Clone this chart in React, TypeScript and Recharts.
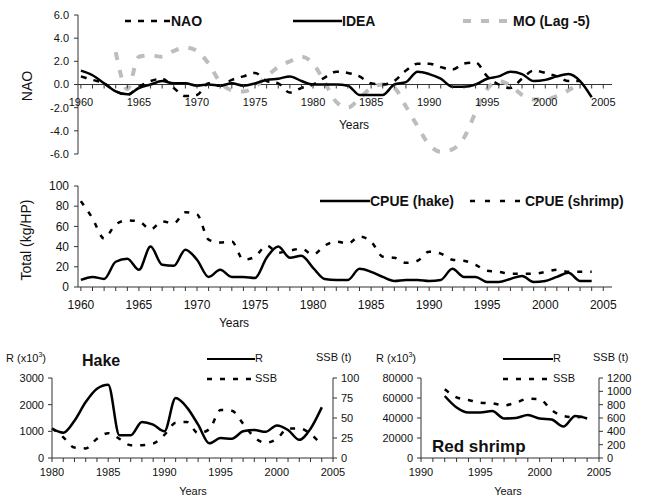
import React from 'react';
import { LineChart, Line, XAxis, YAxis, ReferenceLine } from 'recharts';

const FONT = 'Arial, "Liberation Sans", sans-serif';
const INK = '#111';
const AXIS = '#333';

// top + middle panels, 1960-2004
const years = [
  1960, 1961, 1962, 1963, 1964, 1965, 1966, 1967, 1968, 1969,
  1970, 1971, 1972, 1973, 1974, 1975, 1976, 1977, 1978, 1979,
  1980, 1981, 1982, 1983, 1984, 1985, 1986, 1987, 1988, 1989,
  1990, 1991, 1992, 1993, 1994, 1995, 1996, 1997, 1998, 1999,
  2000, 2001, 2002, 2003, 2004,
];
const nao = [
  0.7, 0.4, 0.1, -0.6, -0.9, -0.2, 0.3, 0.5, -0.3, -1.0,
  -0.9, 0.1, -0.1, 0.4, 0.7, 1.0, 0.3, 0.1, -0.7, -0.3,
  0.0, 0.6, 1.1, 1.0, 0.7, 0.1, 0.0, 0.3, 1.2, 1.8,
  1.8, 1.5, 1.3, 1.8, 1.9, 0.7, 0.0, -0.3, 0.5, 1.2,
  1.0, 0.7, 0.3, 0.3, null,
];
const idea = [
  1.2, 0.8, 0.1, -0.6, -0.85, -0.3, 0.0, 0.3, 0.1, 0.1,
  -0.1, 0.0, -0.1, 0.1, -0.1, 0.1, 0.4, 0.5, 0.7, 0.3,
  0.0, 0.0, 0.0, -0.1, -0.9, -0.9, -0.9, 0.0, 0.2, 1.1,
  0.9, 0.5, -0.2, -0.2, 0.0, 0.5, 0.7, 1.1, 0.9, 0.3,
  0.4, 0.7, 0.9, 0.3, -1.1,
];
const moLag5 = [
  null, null, null, 2.8, -0.4, 2.4, 2.5, 2.4, 2.9, 3.2,
  2.9, 1.8, 0.2, -0.5, -0.6, -0.2, 0.7, 1.5, 2.0, 2.4,
  1.8, 0.2, -1.5, -2.0, -1.2, -0.3, 0.0, -0.3, -1.9, -3.6,
  -5.2, -5.8, -5.6, -4.6, -2.4, -0.4, 0.3, -0.1, -0.9, -1.3,
  -1.3, -1.0, -0.5, 0.2, null,
];
const cpueHake = [
  7, 10, 8, 25, 28, 17, 40, 22, 21, 37,
  27, 10, 17, 10, 10, 9, 29, 40, 29, 31,
  19, 8, 7, 7, 18, 15, 10, 6, 7, 7,
  6, 7, 18, 10, 10, 5, 5, 8, 11, 5,
  6, 10, 14, 6, 6,
];
const cpueShrimp = [
  85, 68, 48, 62, 66, 65, 57, 65, 63, 74,
  72, 47, 44, 45, 27, 30, 41, 34, 36, 38,
  32, 41, 45, 43, 50, 45, 30, 29, 24, 26,
  35, 33, 27, 26, 22, 16, 15, 13, 13, 13,
  15, 17, 15, 15, 15,
];

// hake stock, 1980-2004
const hakeYears = [
  1980, 1981, 1982, 1983, 1984, 1985, 1986, 1987, 1988, 1989,
  1990, 1991, 1992, 1993, 1994, 1995, 1996, 1997, 1998, 1999,
  2000, 2001, 2002, 2003, 2004,
];
const hakeR = [
  1100, 950, 1400, 2100, 2600, 2750, 850, 850, 1350, 1250,
  1000, 2250, 1900, 1250, 550, 750, 720, 1000, 1050, 980,
  1220, 1050, 680, 1100, 1900,
];
const hakeSSB = [
  37, 26, 13, 12, 24, 31, 24, 16, 16, 18,
  29, 44, 45, 31, 36, 60, 59, 43, 26, 19,
  24, 37, 37, 30, 16,
];

// red shrimp stock, 1992-2004
const shrimpYears = [1992, 1993, 1994, 1995, 1996, 1997, 1998, 1999, 2000, 2001, 2002, 2003, 2004];
const shrimpR = [62000, 50500, 45500, 45500, 47000, 39500, 40000, 43000, 39500, 38500, 31500, 42000, 39500];
const shrimpSSB = [1030, 910, 870, 830, 820, 790, 830, 890, 880, 720, 630, 610, 630];

// axis ticks
const naoTicks = [-6, -4, -2, 0, 2, 4, 6];
const cpueTicks = [0, 20, 40, 60, 80, 100];
const hakeRTicks = [0, 1000, 2000, 3000];
const hakeSSBTicks = [0, 25, 50, 75, 100];
const shrimpRTicks = [0, 20000, 40000, 60000, 80000];
const shrimpSSBTicks = [0, 200, 400, 600, 800, 1000, 1200];
const yearRange = (a: number, b: number) => Array.from({ length: b - a + 1 }, (_, i) => a + i);

const climateData = years.map((year, i) => ({ year, nao: nao[i], idea: idea[i], mo: moLag5[i] }));
const cpueData = years.map((year, i) => ({ year, hake: cpueHake[i], shrimp: cpueShrimp[i] }));
const hakeData = hakeYears.map((year, i) => ({ year, r: hakeR[i], ssb: hakeSSB[i] }));
const shrimpData = shrimpYears.map((year, i) => ({ year, r: shrimpR[i], ssb: shrimpSSB[i] }));

const fifth = (v: number) => (v % 5 === 0 ? String(v) : '');

// top panel geometry, x axis crosses at 0
const TOP_H = 170;
const TOP_MT = 15;
const TOP_XH = 16;
const TOP_ZERO = TOP_MT + (TOP_H - TOP_MT - TOP_XH) / 2;

function ZeroAxisTick(props: any) {
  const { x, payload } = props;
  const v = payload.value;
  return (
    <g>
      <line x1={x} x2={x} y1={TOP_ZERO} y2={TOP_ZERO + 4} stroke={AXIS} />
      {v % 5 === 0 && (
        <text x={x} y={TOP_ZERO + 21} textAnchor="middle" fontSize={11} fontFamily={FONT} fill={INK}>
          {v}
        </text>
      )}
    </g>
  );
}

function Key({ x, y, len, dash, color = '#000', sw = 2, label, size = 14, bold = true }: any) {
  return (
    <div style={{ position: 'absolute', left: x, top: y, display: 'flex', alignItems: 'center', whiteSpace: 'nowrap', fontFamily: FONT, fontSize: size, fontWeight: bold ? 700 : 400, color: INK, lineHeight: 1 }}>
      <svg width={len} height={8} style={{ display: 'block' }}>
        <line x1={0} y1={4} x2={len} y2={4} stroke={color} strokeWidth={sw} strokeDasharray={dash} />
      </svg>
      <span>{label}</span>
    </div>
  );
}

function Txt({ x, y, children, size = 11, bold = false, rotate = false, center = false }: any) {
  return (
    <div style={{
      position: 'absolute', left: x, top: y, fontFamily: FONT, fontSize: size, fontWeight: bold ? 700 : 400,
      color: INK, whiteSpace: 'nowrap', lineHeight: 1,
      transform: rotate ? 'translate(-50%, -50%) rotate(-90deg)' : center ? 'translate(-50%, -50%)' : undefined,
    }}>
      {children}
    </div>
  );
}

const tickStyle = (size: number) => ({ fontSize: size, fill: INK, fontFamily: FONT });

export default function App() {
  return (
    <div style={{ position: 'absolute', left: 0, top: 0, width: 648, height: 495, background: '#fff', overflow: 'hidden' }}>
      {/* top: NAO, IDEA, MO */}
      <div style={{ position: 'absolute', left: 0, top: 0 }}>
        <LineChart width={648} height={TOP_H} data={climateData} margin={{ top: TOP_MT, right: 36, bottom: 0, left: 38 }}>
          <XAxis type="number" dataKey="year" domain={[1959.75, 2005.75]} ticks={yearRange(1960, 2005)} interval={0}
            axisLine={false} tickLine={false} tick={ZeroAxisTick} height={TOP_XH} />
          <YAxis width={40} domain={[-6, 6]} ticks={naoTicks} interval={0} tickFormatter={(v: number) => v.toFixed(1)}
            tick={tickStyle(11)} tickSize={4} tickMargin={5} stroke={AXIS} />
          <ReferenceLine y={0} stroke={AXIS} />
          <Line type="monotone" dataKey="mo" stroke="#bdbdbd" strokeWidth={4} strokeDasharray="8 10" dot={false} isAnimationActive={false} />
          <Line type="monotone" dataKey="nao" stroke="#000" strokeWidth={2.5} strokeDasharray="6 7" dot={false} isAnimationActive={false} />
          <Line type="monotone" dataKey="idea" stroke="#000" strokeWidth={2.5} dot={false} isAnimationActive={false} />
        </LineChart>
      </div>
      <Key x={125} y={14} len={46} dash="6 7" sw={2.5} label="NAO" />
      <Key x={293} y={14} len={49} label="IDEA" sw={2.5} />
      <Key x={463} y={14} len={50} dash="8 10" color="#bdbdbd" sw={4} label="MO (Lag -5)" />
      <Txt x={27} y={86} size={14} rotate>NAO</Txt>
      <Txt x={354} y={125} size={12} center>Years</Txt>

      {/* middle: CPUE */}
      <div style={{ position: 'absolute', left: 0, top: 170 }}>
        <LineChart width={648} height={147} data={cpueData} margin={{ top: 16, right: 36, bottom: 0, left: 38 }}>
          <XAxis type="number" dataKey="year" domain={[1959.75, 2005.75]} ticks={yearRange(1960, 2005)} interval={0}
            tickFormatter={fifth} tick={tickStyle(12)} tickSize={4} tickMargin={9} stroke={AXIS} height={30} />
          <YAxis width={40} domain={[0, 100]} ticks={cpueTicks} interval={0} tick={tickStyle(12)}
            tickSize={4} tickMargin={5} stroke={AXIS} />
          <Line type="monotone" dataKey="shrimp" stroke="#000" strokeWidth={2.5} strokeDasharray="5 8" dot={false} isAnimationActive={false} />
          <Line type="monotone" dataKey="hake" stroke="#000" strokeWidth={2.5} dot={false} isAnimationActive={false} />
        </LineChart>
      </div>
      <Key x={320} y={194} len={50} label="CPUE (hake)" sw={2.5} />
      <Key x={470} y={194} len={55} dash="5 10" sw={2.5} label="CPUE (shrimp)" />
      <Txt x={26} y={240} size={14} rotate>Total (kg/HP)</Txt>
      <Txt x={234} y={323} size={12} center>Years</Txt>

      {/* bottom left: hake */}
      <div style={{ position: 'absolute', left: 0, top: 340 }}>
        <LineChart width={380} height={148} data={hakeData} margin={{ top: 38, right: 7, bottom: 0, left: 12 }}>
          <XAxis type="number" dataKey="year" domain={[1980, 2005]} ticks={yearRange(1980, 2005)} interval={0}
            tickFormatter={fifth} tick={tickStyle(11)} tickSize={4} tickMargin={6} stroke={AXIS} height={30} />
          <YAxis yAxisId="r" width={40} domain={[0, 3000]} ticks={hakeRTicks} interval={0} tick={tickStyle(11)}
            tickSize={4} tickMargin={4} stroke={AXIS} />
          <YAxis yAxisId="ssb" orientation="right" width={40} domain={[0, 100]} ticks={hakeSSBTicks} interval={0}
            tick={tickStyle(11)} tickSize={4} tickMargin={4} stroke={AXIS} />
          <Line type="monotone" yAxisId="ssb" dataKey="ssb" stroke="#000" strokeWidth={2.5} strokeDasharray="5 8" dot={false} isAnimationActive={false} />
          <Line type="monotone" yAxisId="r" dataKey="r" stroke="#000" strokeWidth={2.5} dot={false} isAnimationActive={false} />
        </LineChart>
      </div>
      <Txt x={6} y={351} size={11}>R (x10<sup style={{ fontSize: 7 }}>3</sup>)</Txt>
      <Txt x={82} y={353} size={16} bold>Hake</Txt>
      <Key x={207} y={353} len={48} label="R" size={11} bold={false} sw={2} />
      <Key x={207} y={373} len={48} dash="5 8" label="SSB" size={11} bold={false} sw={2.5} />
      <Txt x={316} y={352} size={11}>SSB (t)</Txt>
      <Txt x={193} y={491} size={11} center>Years</Txt>

      {/* bottom right: red shrimp */}
      <div style={{ position: 'absolute', left: 380, top: 340 }}>
        <LineChart width={268} height={148} data={shrimpData} margin={{ top: 38, right: 5, bottom: 0, left: 3 }}>
          <XAxis type="number" dataKey="year" domain={[1990, 2005]} ticks={yearRange(1990, 2005)} interval={0}
            tickFormatter={fifth} tick={tickStyle(11)} tickSize={4} tickMargin={6} stroke={AXIS} height={30} />
          <YAxis yAxisId="r" width={38} domain={[0, 80000]} ticks={shrimpRTicks} interval={0} tick={tickStyle(11)}
            tickSize={4} tickMargin={4} stroke={AXIS} />
          <YAxis yAxisId="ssb" orientation="right" width={44} domain={[0, 1200]} ticks={shrimpSSBTicks} interval={0}
            tick={tickStyle(11)} tickSize={4} tickMargin={4} stroke={AXIS} />
          <Line type="monotone" yAxisId="ssb" dataKey="ssb" stroke="#000" strokeWidth={2.5} strokeDasharray="5 8" dot={false} isAnimationActive={false} />
          <Line type="monotone" yAxisId="r" dataKey="r" stroke="#000" strokeWidth={2.5} dot={false} isAnimationActive={false} />
        </LineChart>
      </div>
      <Txt x={376} y={351} size={11}>R (x10<sup style={{ fontSize: 7 }}>3</sup>)</Txt>
      <Txt x={432} y={438} size={17} bold>Red shrimp</Txt>
      <Key x={503} y={353} len={50} label="R" size={11} bold={false} sw={2} />
      <Key x={503} y={373} len={50} dash="5 8" label="SSB" size={11} bold={false} sw={2.5} />
      <Txt x={593} y={352} size={11}>SSB (t)</Txt>
      <Txt x={508} y={491} size={11} center>Years</Txt>
    </div>
  );
}
